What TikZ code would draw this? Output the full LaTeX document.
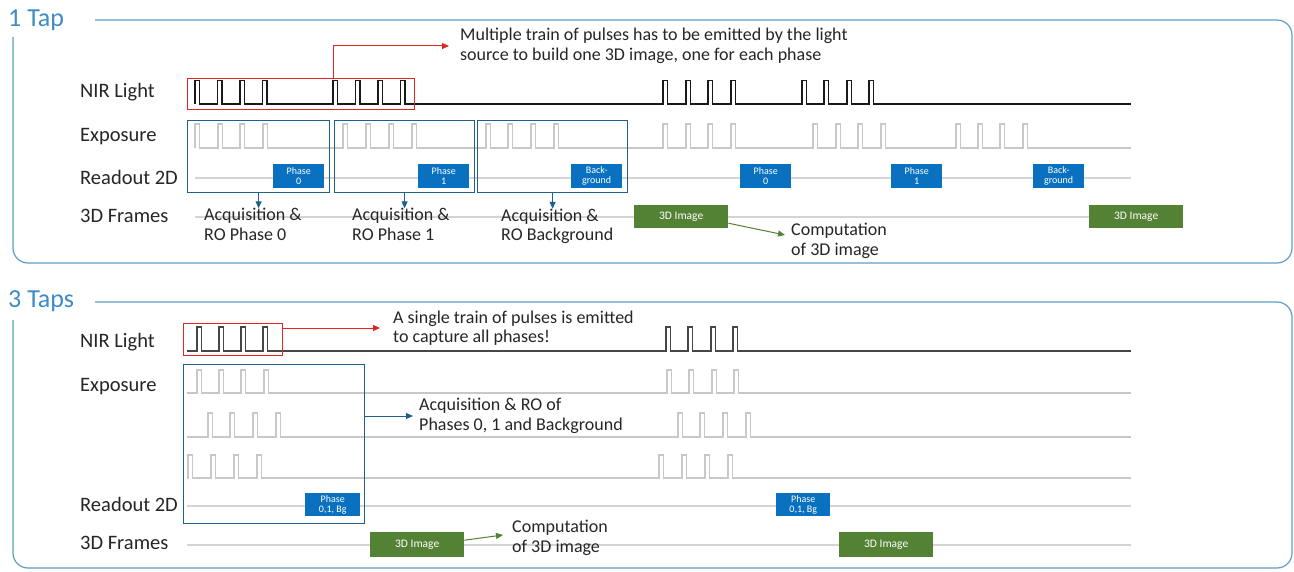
\documentclass[tikz,border=0pt]{standalone}
\usepackage{fontspec}
\setmainfont{Carlito}
\usetikzlibrary{arrows.meta}
\definecolor{panelc}{RGB}{95,158,196}
\definecolor{titlec}{RGB}{60,140,200}
\definecolor{labc}{RGB}{38,38,38}
\definecolor{nirc}{RGB}{25,25,25}
\definecolor{nirtwo}{RGB}{70,70,70}
\definecolor{expc}{RGB}{200,200,200}
\definecolor{basec}{RGB}{212,212,212}
\definecolor{boxblue}{RGB}{10,112,192}
\definecolor{frameblue}{RGB}{30,95,140}
\definecolor{imggreen}{RGB}{84,130,53}
\definecolor{redc}{RGB}{228,35,35}
\newcommand\pulsetrain[5]{\draw[#1] (#2,#3) foreach \p in {#5} { -- (\p,#3) -- (\p,#4) -- ({\p+4.5},#4) -- ({\p+4.5},#3) } -- (1131,#3);}
\begin{document}
\begin{tikzpicture}[x=1pt,y=-1pt,
  lab/.style={anchor=base west,inner sep=0pt,font=\fontsize{20.5}{24}\selectfont,text=labc},
  ttl/.style={anchor=base west,inner sep=0pt,font=\fontsize{26}{30}\selectfont,text=titlec},
  note/.style={anchor=west,align=left,inner sep=0pt,font=\fontsize{18}{19.5}\selectfont,text=labc},
  rdbox/.style={fill=boxblue,text=white,minimum width=51pt,minimum height=24pt,inner sep=0pt,align=center,font=\fontsize{10}{10}\selectfont,anchor=north west},
  imgbox/.style={fill=imggreen,text=white,minimum width=94pt,minimum height=23pt,inner sep=0pt,font=\fontsize{11.5}{12}\selectfont,anchor=north west},
  acqframe/.style={draw=frameblue,line width=1.2pt,anchor=north west,inner sep=0pt},
  redframe/.style={draw=redc,line width=1.2pt,anchor=north west,inner sep=0pt},
  panel/.style={draw=panelc,line width=1.2pt,rounded corners=15pt},
  nir/.style={draw=nirc,line width=1.5pt,line join=miter},
  nirb/.style={draw=nirtwo,line width=1.5pt,line join=miter},
  expo/.style={draw=expc,line width=1.3pt,line join=miter},
  base/.style={draw=basec,line width=1.2pt},
  arr/.style={-{Triangle[length=7pt,width=6pt]},line width=1pt},
]
\fill[white] (0,0) rectangle (1294,572);
\useasboundingbox (0,0) rectangle (1294,572);

% ---------------- Panel 1 ----------------
\draw[panel] (95,20) -- (1292,20) -- (1292,263) -- (13,263) -- (13,37);
\node[ttl] (t1) at (8,27) {1 Tap};

\node[lab] (l1) at (80,98) {NIR Light};
\node[lab] (l2) at (80,141.5) {Exposure};
\node[lab] (l3) at (80,184.5) {Readout 2D};
\node[lab] (l4) at (80,222.5) {3D Frames};

\pulsetrain{nir}{195}{104}{80.5}{195,217.5,240,262.5,333,355.5,378,400.5,663,686,708,731,802,824,847,869}
\pulsetrain{expo}{195}{148}{124}{195,218,240,263,343,366,389,412,486,508,531,554,663,686,708,731,813,836,858,881,956,978,1000,1023}
\draw[base] (195,178) -- (1131,178);
\draw[base] (195,217) -- (1131,217);

\node[rdbox] (r1) at (273,164) {Phase\\0};
\node[rdbox] (r2) at (418,164) {Phase\\1};
\node[rdbox] (r3) at (571,164) {Back-\\ground};
\node[rdbox] (r4) at (740,164) {Phase\\0};
\node[rdbox] (r5) at (891,164) {Phase\\1};
\node[rdbox] (r6) at (1033,164) {Back-\\ground};

\node[imgbox] (i1) at (634,205) {3D Image};
\node[imgbox] (i2) at (1089,205) {3D Image};

\node[acqframe,minimum width=142pt,minimum height=72pt] (f1) at (187,120) {};
\node[acqframe,minimum width=140pt,minimum height=72pt] (f2) at (334,120) {};
\node[acqframe,minimum width=150pt,minimum height=72pt] (f3) at (477,120) {};

\node[note] (a1) at (204,224.5) {Acquisition \&\\RO Phase 0};
\node[note] (a2) at (352,224.5) {Acquisition \&\\RO Phase 1};
\node[note] (a3) at (501,226.5) {Acquisition \&\\RO Background};
\draw[arr,frameblue] (f1.south) -- (f1.south |- a1.north);
\draw[arr,frameblue] (f2.south) -- (f2.south |- a2.north);
\draw[arr,frameblue] (f3.south) -- (f3.south |- a3.north);

\node[note,inner xsep=6pt] (c1) at (785,241) {Computation\\of 3D image};
\draw[arr,imggreen] ([yshift=-6.5pt]i1.east) -- ([yshift=6pt]c1.west);

\node[redframe,minimum width=227pt,minimum height=31pt] (red1) at (187,78) {};
\node[note,inner xsep=11pt] (n1) at (449,46) {Multiple train of pulses has to be emitted by the light\\source to build one 3D image, one for each phase};
\draw[arr,redc] ([xshift=32.5pt]red1.north) |- (n1.west);

% ---------------- Panel 2 ----------------
\draw[panel] (95,302) -- (1292,302) -- (1292,568) -- (13,568) -- (13,320);
\node[ttl] (t2) at (8,308) {3 Taps};

\node[lab] (m1) at (80,347) {NIR Light};
\node[lab] (m2) at (80,391) {Exposure};
\node[lab] (m3) at (80,511.5) {Readout 2D};
\node[lab] (m4) at (80,549.5) {3D Frames};

\pulsetrain{nirb}{187}{351}{327}{197,219,241,263,666,688,711,733}
\pulsetrain{expo}{187}{393}{370}{197,219,241,264,667,689,712,734}
\pulsetrain{expo}{187}{437}{413}{208,230,253,276,678,700,723,746}
\pulsetrain{expo}{187}{478}{455}{188,211,234,257,659,682,705,728}
\draw[base] (187,506) -- (1131,506);
\draw[base] (187,545) -- (1131,545);

\node[rdbox,minimum width=55pt,minimum height=23pt] (r7) at (305,493) {Phase\\0,1, Bg};
\node[rdbox,minimum width=54pt,minimum height=23pt] (r8) at (776,493) {Phase\\0,1, Bg};

\node[imgbox,minimum height=25pt] (i3) at (370,532) {3D Image};
\node[imgbox,minimum height=25pt] (i4) at (839,532) {3D Image};

\node[acqframe,minimum width=181pt,minimum height=159pt] (f4) at (183,364) {};
\node[note,inner xsep=6pt] (a4) at (413,416) {Acquisition \& RO of\\Phases 0, 1 and Background};
\draw[arr,frameblue] (f4.east |- a4.west) -- (a4.west);

\node[note,inner xsep=9pt] (c2) at (503,538) {Computation\\of 3D image};
\draw[arr,imggreen] ([yshift=4.5pt]i3.east) -- ([yshift=3pt]c2.west);

\node[redframe,minimum width=99pt,minimum height=32pt] (red2) at (183,323) {};
\node[note,inner xsep=13pt] (n2) at (380,328) {A single train of pulses is emitted\\to capture all phases!};
\draw[arr,redc] (red2.east |- n2.west) -- (n2.west);
\end{tikzpicture}
\end{document}
